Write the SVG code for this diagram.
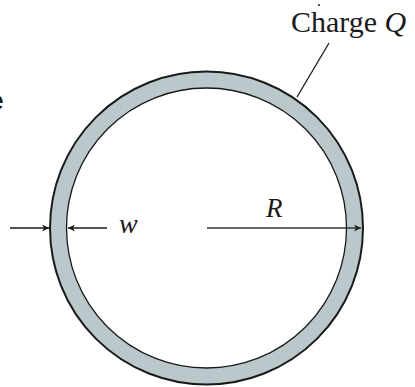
<svg xmlns="http://www.w3.org/2000/svg" width="415" height="387" viewBox="0 0 415 387">
<style>
.ln{stroke:#1a1a1a;stroke-width:1.3;fill:none}
.lbl{font-family:"Liberation Serif","Times New Roman",serif;fill:#1a1a1a}
.it{font-style:italic}
</style>
<defs>
<marker id="ah" viewBox="0 0 10 10" refX="10" refY="5" markerWidth="7" markerHeight="7" markerUnits="userSpaceOnUse" orient="auto">
<path d="M0,0 L10,5 L0,10 L3,5 Z" fill="#1a1a1a"/>
</marker>
</defs>
<rect width="415" height="387" fill="#fff"/>
<g id="shell">
<circle cx="206.5" cy="228" r="156.5" fill="#bac8cb" stroke="#1a1a1a" stroke-width="2"/>
<circle cx="206.5" cy="228" r="140" fill="#fff" stroke="#1a1a1a" stroke-width="1.3"/>
</g>
<g id="connectors">
<line class="ln" x1="10" y1="228" x2="49" y2="228" marker-end="url(#ah)"/>
<line class="ln" x1="107" y1="228" x2="68" y2="228" marker-end="url(#ah)"/>
<line class="ln" x1="207" y1="228" x2="361" y2="228" stroke="#333" style="stroke:#333;stroke-width:1.6" marker-end="url(#ah)"/>
<line class="ln" x1="329" y1="43" x2="297" y2="97"/>
</g>
<g id="label-charge">
<text class="lbl" x="291" y="32" font-size="30">Charge <tspan class="it">Q</tspan></text>
<circle cx="319" cy="5" r="1" fill="#1a1a1a"/>
</g>
<g id="label-w">
<text class="lbl it" x="119" y="233" font-size="28">w</text>
</g>
<g id="label-R">
<text class="lbl it" x="266" y="217" font-size="27">R</text>
</g>
<g id="cut-text">
<text x="-12" y="110" font-family="Liberation Sans, Arial, sans-serif" font-weight="bold" font-size="28" fill="#1a1a1a">e</text>
</g>
</svg>
